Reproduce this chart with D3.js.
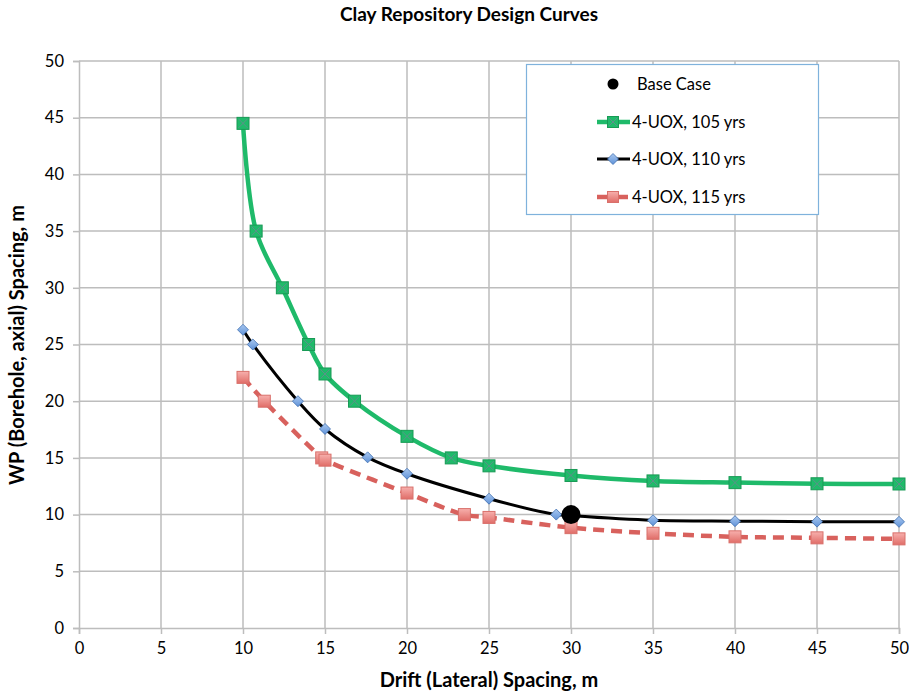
<!DOCTYPE html>
<html>
<head>
<script src="https://cdn.jsdelivr.net/npm/d3@7"></script>
<style>
  body { margin: 0; background: #fff; }
  svg { font-family: Lato, "Open Sans", sans-serif; }
</style>
</head>
<body>
<svg id="chart" width="909" height="696"></svg>
<script>
var xTicks = [0, 5, 10, 15, 20, 25, 30, 35, 40, 45, 50];
var yTicks = [0, 5, 10, 15, 20, 25, 30, 35, 40, 45, 50];

var uox105X = [10, 10.8, 12.4, 14, 15, 16.8, 20, 22.7, 25, 30, 35, 40, 45, 50];
var uox105Y = [44.5, 35, 30, 25, 22.4, 20, 16.9, 15, 14.3, 13.45, 12.97, 12.82, 12.72, 12.7];

var uox110X = [10, 10.6, 13.35, 15, 17.6, 20, 25, 29.1, 30, 35, 40, 45, 50];
var uox110Y = [26.3, 25, 20, 17.55, 15.05, 13.6, 11.4, 10, 9.9, 9.5, 9.42, 9.38, 9.36];

var uox115X = [10, 11.3, 14.8, 15, 20, 23.5, 25, 30, 35, 40, 45, 50];
var uox115Y = [22.1, 20, 15, 14.8, 11.9, 10, 9.75, 8.85, 8.35, 8.04, 7.95, 7.86];

var baseX = [30];
var baseY = [10];

var legendNames = ["Base Case", "4-UOX, 105 yrs", "4-UOX, 110 yrs", "4-UOX, 115 yrs"];

function pts(xs, ys) { return xs.map(function(d, i) { return {x: d, y: ys[i]}; }); }

var svg = d3.select("#chart");
var pLeft = 79, pRight = 899, pTop = 61, pBottom = 628;

var x = d3.scaleLinear().domain([0, 50]).range([pLeft, pRight]);
var y = d3.scaleLinear().domain([0, 50]).range([pBottom, pTop]);

// grid
svg.append("g").selectAll("line").data(xTicks.slice(1)).enter().append("line")
  .attr("x1", function(d){ return x(d); }).attr("x2", function(d){ return x(d); })
  .attr("y1", pTop).attr("y2", pBottom)
  .attr("stroke", "#bdbdbd").attr("stroke-width", 1.5);
svg.append("g").selectAll("line").data(yTicks.slice(1)).enter().append("line")
  .attr("x1", pLeft).attr("x2", pRight)
  .attr("y1", function(d){ return y(d); }).attr("y2", function(d){ return y(d); })
  .attr("stroke", "#bdbdbd").attr("stroke-width", 1.5);

// axes
var xAxis = svg.append("g").attr("transform", "translate(0," + pBottom + ")")
  .call(d3.axisBottom(x).tickValues(xTicks).tickSize(6).tickPadding(8));
var yAxis = svg.append("g").attr("transform", "translate(" + pLeft + ",0)")
  .call(d3.axisLeft(y).tickValues(yTicks).tickSize(6).tickPadding(9));
[xAxis, yAxis].forEach(function(a) {
  a.selectAll("path, line").attr("stroke", "#bdbdbd").attr("stroke-width", 1.5);
  a.selectAll("text").attr("fill", "#000").style("font-size", "16.5px")
    .style("font-family", "Lato, 'Open Sans', sans-serif");
});

var line = d3.line().x(function(d){ return x(d.x); }).y(function(d){ return y(d.y); })
  .curve(d3.curveCatmullRom.alpha(0.5));

var defs = svg.append("defs");
var grad = defs.append("linearGradient").attr("id", "redsq").attr("x1", 0).attr("y1", 0).attr("x2", 0).attr("y2", 1);
grad.append("stop").attr("offset", "0%").attr("stop-color", "#f7b0ad");
grad.append("stop").attr("offset", "100%").attr("stop-color", "#e06d68");
var bgrad = defs.append("linearGradient").attr("id", "bluedia").attr("x1", 0).attr("y1", 0).attr("x2", 0).attr("y2", 1);
bgrad.append("stop").attr("offset", "0%").attr("stop-color", "#a9c8f0");
bgrad.append("stop").attr("offset", "100%").attr("stop-color", "#5f92d8");

// 105 yrs
svg.append("path").attr("d", line(pts(uox105X, uox105Y))).attr("fill", "none")
  .attr("stroke", "#1fba6a").attr("stroke-width", 4.5);
// 110 yrs
svg.append("path").attr("d", line(pts(uox110X, uox110Y))).attr("fill", "none")
  .attr("stroke", "#000").attr("stroke-width", 3);
// 115 yrs
svg.append("path").attr("d", line(pts(uox115X, uox115Y))).attr("fill", "none")
  .attr("stroke", "#d8615d").attr("stroke-width", 4.5).attr("stroke-dasharray", "11,7");

function greenSq(g, cx, cy, s) {
  g.append("rect").attr("x", cx - s/2).attr("y", cy - s/2).attr("width", s).attr("height", s)
    .attr("fill", "#1fba6a").attr("stroke", "#189a55").attr("stroke-width", 1);
  var h = s/2 - 1.5;
  g.append("path").attr("d", "M" + (cx-h) + "," + (cy-h) + "L" + (cx+h) + "," + (cy+h) +
      "M" + (cx-h) + "," + (cy+h) + "L" + (cx+h) + "," + (cy-h))
    .attr("stroke", "#5f8f8a").attr("stroke-width", 1);
}
function blueDia(g, cx, cy, s) {
  g.append("path").attr("d", "M" + cx + "," + (cy-s) + "L" + (cx+s) + "," + cy + "L" + cx + "," + (cy+s) + "L" + (cx-s) + "," + cy + "Z")
    .attr("fill", "url(#bluedia)").attr("stroke", "#3f6fb0").attr("stroke-width", 0.8);
}
function redSq(g, cx, cy, s) {
  g.append("rect").attr("x", cx - s/2).attr("y", cy - s/2).attr("width", s).attr("height", s)
    .attr("fill", "url(#redsq)").attr("stroke", "#d9706b").attr("stroke-width", 1);
}

var gm = svg.append("g");
pts(uox105X, uox105Y).forEach(function(d){ greenSq(gm, x(d.x), y(d.y), 12); });
pts(uox110X, uox110Y).forEach(function(d){ blueDia(gm, x(d.x), y(d.y), 5.5); });
pts(uox115X, uox115Y).forEach(function(d){ redSq(gm, x(d.x), y(d.y), 12); });

svg.append("g").selectAll("circle").data(pts(baseX, baseY)).enter().append("circle")
  .attr("cx", function(d){ return x(d.x); }).attr("cy", function(d){ return y(d.y); })
  .attr("r", 9.5).attr("fill", "#000");

// legend
var lg = svg.append("g");
lg.append("rect").attr("x", 526.5).attr("y", 64.5).attr("width", 292).attr("height", 150)
  .attr("fill", "#fff").attr("stroke", "#7fb2dc").attr("stroke-width", 1.2);
var rowY = [84, 122, 159, 197];
lg.append("circle").attr("cx", 613).attr("cy", rowY[0]).attr("r", 5.5).attr("fill", "#000");
lg.append("line").attr("x1", 597).attr("x2", 630).attr("y1", rowY[1]).attr("y2", rowY[1])
  .attr("stroke", "#1fba6a").attr("stroke-width", 4.5);
greenSq(lg, 613, rowY[1], 11);
lg.append("line").attr("x1", 597).attr("x2", 630).attr("y1", rowY[2]).attr("y2", rowY[2])
  .attr("stroke", "#000").attr("stroke-width", 3);
blueDia(lg, 613, rowY[2], 5.5);
lg.append("line").attr("x1", 597).attr("x2", 628).attr("y1", rowY[3]).attr("y2", rowY[3])
  .attr("stroke", "#d8615d").attr("stroke-width", 4.5);
redSq(lg, 613, rowY[3], 11);
lg.selectAll("text").data(legendNames).enter().append("text")
  .attr("x", function(d, i){ return i === 0 ? 637 : 632; })
  .attr("y", function(d, i){ return rowY[i] + 6; })
  .style("font-size", "16.5px").text(function(d){ return d; });

// titles
svg.append("text").attr("x", 469).attr("y", 21).attr("text-anchor", "middle")
  .style("font-size", "19px").style("font-weight", "bold").text("Clay Repository Design Curves");
svg.append("text").attr("x", 489).attr("y", 687).attr("text-anchor", "middle")
  .style("font-size", "20px").style("font-weight", "bold").text("Drift (Lateral) Spacing, m");
svg.append("text").attr("transform", "translate(24,345) rotate(-90)").attr("text-anchor", "middle")
  .style("font-size", "20px").style("font-weight", "bold").text("WP (Borehole, axial) Spacing, m");
</script>
</body>
</html>
